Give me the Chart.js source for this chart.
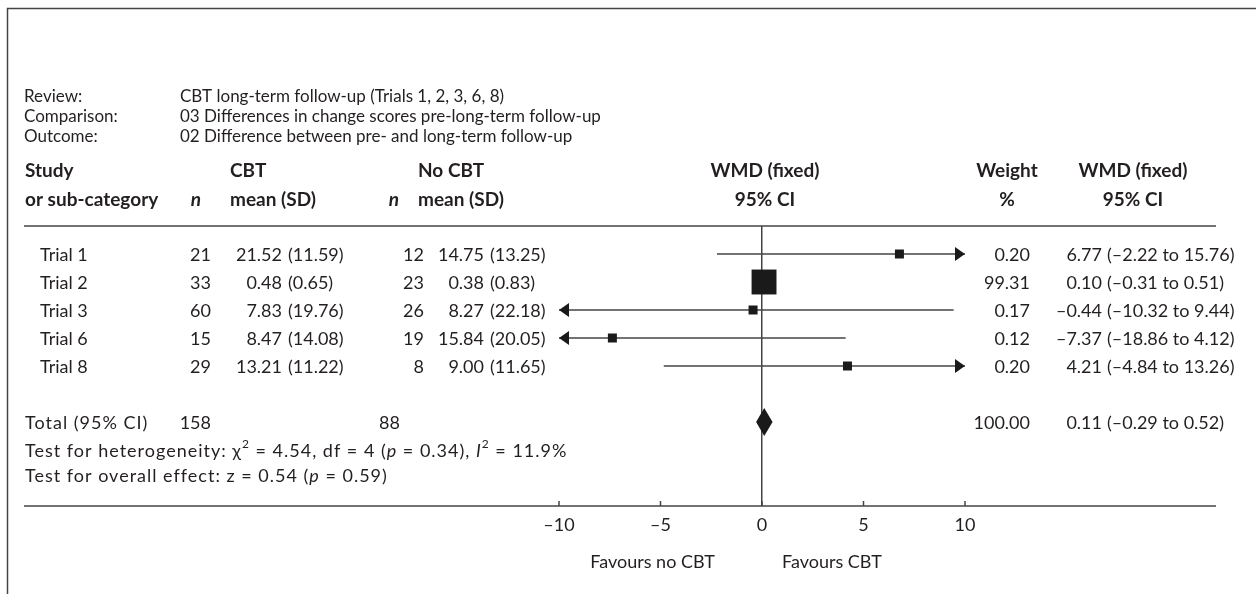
<!DOCTYPE html>
<html>
<head>
<meta charset="utf-8">
<title>CBT long-term follow-up</title>
<script src="https://cdn.jsdelivr.net/npm/chart.js@4.4.1/dist/chart.umd.min.js"></script>
<style>
  html, body { margin: 0; padding: 0; background: #fff; }
  #forest { display: block; }
</style>
</head>
<body>
<canvas id="forest" width="1256" height="594"></canvas>
<script>
// study rows
const studies = ['Trial 1', 'Trial 2', 'Trial 3', 'Trial 6', 'Trial 8'];
const cbtN = [21, 33, 60, 15, 29];
const cbtMean = [21.52, 0.48, 7.83, 8.47, 13.21];
const cbtSd = [11.59, 0.65, 19.76, 14.08, 11.22];
const ctlN = [12, 23, 26, 19, 8];
const ctlMean = [14.75, 0.38, 8.27, 15.84, 9.00];
const ctlSd = [13.25, 0.83, 22.18, 20.05, 11.65];
const weights = [0.20, 99.31, 0.17, 0.12, 0.20];
const wmd = [6.77, 0.10, -0.44, -7.37, 4.21];
const ciLow = [-2.22, -0.31, -10.32, -18.86, -4.84];
const ciHigh = [15.76, 0.51, 9.44, 4.12, 13.26];

// pooled result
const totalN = [158, 88];
const totalWeight = 100.00;
const totalWmd = 0.11;
const totalLow = -0.29;
const totalHigh = 0.52;

const xTicks = [-10, -5, 0, 5, 10];
const X_MIN = -10, X_MAX = 10;
const TOTAL_ROW = 6;

const FONT = 'Lato, "Open Sans", sans-serif';
const BODY = 18;
const INK = '#231f20';
const RULE = '#444';

const font = (size, weight = 'normal', style = 'normal') => `${style} ${weight} ${size}px ${FONT}`;
const dash = v => (v < 0 ? '\u2013' : '') + Math.abs(v).toFixed(2);
const clamp = v => Math.min(X_MAX, Math.max(X_MIN, v));

const put = (ctx, str, x, y, align = 'left', f = font(BODY)) => {
    ctx.font = f;
    ctx.textAlign = align;
    ctx.fillText(str, x, y);
};

// text made of plain / italic / superscript pieces, a little loosely set
const putRuns = (ctx, x, y, runs) => {
    ctx.textAlign = 'left';
    ctx.letterSpacing = '1px';
    runs.forEach(r => {
        const size = r.sup ? 12 : BODY;
        ctx.font = font(size, 'normal', r.it ? 'italic' : 'normal');
        ctx.fillText(r.t, x, r.sup ? y - 7 : y);
        x += ctx.measureText(r.t).width;
    });
    ctx.letterSpacing = '0px';
};

const hline = (ctx, x1, x2, y) => {
    ctx.beginPath();
    ctx.moveTo(x1, y);
    ctx.lineTo(x2, y);
    ctx.stroke();
};

const arrowHead = (ctx, tip, y, dir) => {
    ctx.beginPath();
    ctx.moveTo(tip, y);
    ctx.lineTo(tip - dir * 10, y - 7);
    ctx.lineTo(tip - dir * 10, y + 7);
    ctx.closePath();
    ctx.fill();
};

const squareSide = w => Math.max(9, 25 * Math.sqrt(w / 100));

const forestTable = {
    id: 'forestTable',
    afterDatasetsDraw(chart) {
        const { ctx, scales: { x, y } } = chart;
        ctx.save();
        ctx.fillStyle = '#1a1a1a';
        // arrows where the interval runs past the axis
        studies.forEach((s, i) => {
            const py = y.getPixelForValue(i);
            if (ciLow[i] < X_MIN) arrowHead(ctx, x.getPixelForValue(X_MIN), py, -1);
            if (ciHigh[i] > X_MAX) arrowHead(ctx, x.getPixelForValue(X_MAX), py, 1);
        });
        // pooled diamond
        const ty = y.getPixelForValue(TOTAL_ROW);
        ctx.beginPath();
        ctx.moveTo(x.getPixelForValue(totalLow), ty);
        ctx.lineTo(x.getPixelForValue(totalWmd), ty - 14);
        ctx.lineTo(x.getPixelForValue(totalHigh), ty);
        ctx.lineTo(x.getPixelForValue(totalWmd), ty + 14);
        ctx.closePath();
        ctx.fill();
        ctx.restore();
    },
    afterDraw(chart) {
        const { ctx, chartArea, scales: { x, y } } = chart;
        ctx.save();

        // frame
        ctx.strokeStyle = RULE;
        ctx.lineWidth = 1.5;
        ctx.beginPath();
        ctx.moveTo(7.5, 594);
        ctx.lineTo(7.5, 8.5);
        ctx.lineTo(1256, 8.5);
        ctx.stroke();

        // rules under the header and along the axis
        hline(ctx, 24, 1216, chartArea.top);
        hline(ctx, 24, 1216, chartArea.bottom);
        xTicks.forEach(v => {
            const px = x.getPixelForValue(v);
            ctx.beginPath();
            ctx.moveTo(px, chartArea.bottom - 5);
            ctx.lineTo(px, chartArea.bottom);
            ctx.stroke();
        });

        ctx.fillStyle = INK;
        ctx.textBaseline = 'middle';

        // review description
        [['Review:', 'CBT long-term follow-up (Trials 1, 2, 3, 6, 8)'],
         ['Comparison:', '03 Differences in change scores pre-long-term follow-up'],
         ['Outcome:', '02 Difference between pre- and long-term follow-up']]
            .forEach(([k, v], i) => {
                put(ctx, k, 24, 97 + i * 20, 'left', font(17));
                put(ctx, v, 180, 97 + i * 20, 'left', font(17));
            });

        // column headers
        const h1 = 171, h2 = 200;
        const bold = font(19, 'bold');
        const boldIt = font(19, 'bold', 'italic');
        put(ctx, 'Study', 25, h1, 'left', bold);
        put(ctx, 'or sub-category', 25, h2, 'left', bold);
        put(ctx, 'n', 196, h2, 'center', boldIt);
        put(ctx, 'CBT', 230, h1, 'left', bold);
        put(ctx, 'mean (SD)', 230, h2, 'left', bold);
        put(ctx, 'n', 394, h2, 'center', boldIt);
        put(ctx, 'No CBT', 418, h1, 'left', bold);
        put(ctx, 'mean (SD)', 418, h2, 'left', bold);
        put(ctx, 'WMD (fixed)', 765, h1, 'center', bold);
        put(ctx, '95% CI', 765, h2, 'center', bold);
        put(ctx, 'Weight', 1007, h1, 'center', bold);
        put(ctx, '%', 1007, h2, 'center', bold);
        put(ctx, 'WMD (fixed)', 1133, h1, 'center', bold);
        put(ctx, '95% CI', 1133, h2, 'center', bold);

        // study rows
        studies.forEach((s, i) => {
            const py = y.getPixelForValue(i) + 1;
            put(ctx, s, 40, py);
            put(ctx, String(cbtN[i]), 211, py, 'right');
            put(ctx, cbtMean[i].toFixed(2), 282, py, 'right');
            put(ctx, `(${cbtSd[i].toFixed(2)})`, 288, py);
            put(ctx, String(ctlN[i]), 424, py, 'right');
            put(ctx, ctlMean[i].toFixed(2), 484, py, 'right');
            put(ctx, `(${ctlSd[i].toFixed(2)})`, 490, py);
            put(ctx, weights[i].toFixed(2), 1030, py, 'right');
            put(ctx, dash(wmd[i]), 1102, py, 'right');
            put(ctx, `(${dash(ciLow[i])} to ${dash(ciHigh[i])})`, 1107, py);
        });

        // pooled row and tests
        const ty = y.getPixelForValue(TOTAL_ROW) + 1;
        putRuns(ctx, 25, ty, [{ t: 'Total (95% CI)' }]);
        put(ctx, String(totalN[0]), 211, ty, 'right');
        put(ctx, String(totalN[1]), 400, ty, 'right');
        put(ctx, totalWeight.toFixed(2), 1030, ty, 'right');
        put(ctx, dash(totalWmd), 1102, ty, 'right');
        put(ctx, `(${dash(totalLow)} to ${dash(totalHigh)})`, 1107, ty);

        putRuns(ctx, 25, ty + 28, [
            { t: 'Test for heterogeneity: \u03c7' }, { t: '2', sup: true },
            { t: ' = 4.54, df = 4 (' }, { t: 'p', it: true }, { t: ' = 0.34), ' },
            { t: 'I', it: true }, { t: '2', sup: true }, { t: ' = 11.9%' }
        ]);
        putRuns(ctx, 25, ty + 53, [
            { t: 'Test for overall effect: z = 0.54 (' }, { t: 'p', it: true }, { t: ' = 0.59)' }
        ]);

        // direction labels
        const zero = x.getPixelForValue(0);
        put(ctx, 'Favours no CBT', zero - 47, 562, 'right');
        put(ctx, 'Favours CBT', zero + 20, 562, 'left');

        ctx.restore();
    }
};

const ciSets = studies.map((s, i) => ({
    label: s,
    data: [{ x: clamp(ciLow[i]), y: i }, { x: clamp(ciHigh[i]), y: i }],
    showLine: true,
    borderColor: RULE,
    borderWidth: 1.5,
    pointRadius: 0,
    clip: false,
    order: 1
}));

const squares = {
    label: 'WMD',
    data: wmd.map((v, i) => ({ x: v, y: i })),
    pointStyle: 'rect',
    pointRadius: weights.map(w => squareSide(w) / Math.SQRT2),
    pointHoverRadius: weights.map(w => squareSide(w) / Math.SQRT2),
    backgroundColor: '#1a1a1a',
    borderWidth: 0,
    clip: false,
    order: 0
};

new Chart(document.getElementById('forest'), {
    type: 'scatter',
    data: { datasets: [squares, ...ciSets] },
    options: {
        responsive: false,
        animation: false,
        events: [],
        layout: { padding: { left: 559, right: 291, top: 226, bottom: 0 } },
        plugins: { legend: { display: false }, tooltip: { enabled: false } },
        scales: {
            x: {
                type: 'linear',
                min: X_MIN,
                max: X_MAX,
                afterFit: scale => { scale.height = 88; },
                afterBuildTicks: scale => { scale.ticks = xTicks.map(v => ({ value: v })); },
                border: { display: false },
                grid: {
                    drawTicks: false,
                    lineWidth: 1.5,
                    color: c => (c.tick && c.tick.value === 0 ? RULE : 'rgba(0,0,0,0)')
                },
                ticks: {
                    padding: 8,
                    maxRotation: 0,
                    autoSkip: false,
                    color: INK,
                    font: { family: FONT, size: BODY },
                    callback: v => (v < 0 ? '\u2013' + Math.abs(v) : String(v))
                }
            },
            y: {
                type: 'linear',
                min: -1,
                max: 9,
                reverse: true,
                display: false
            }
        }
    },
    plugins: [forestTable]
});
</script>
</body>
</html>
